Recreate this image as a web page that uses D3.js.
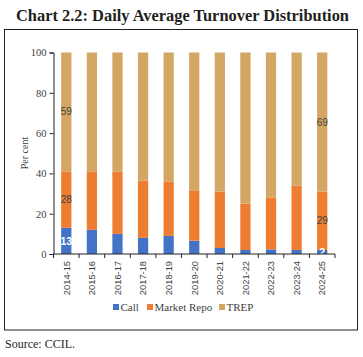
<!DOCTYPE html>
<html><head><meta charset="utf-8">
<script src="https://cdn.jsdelivr.net/npm/d3@7"></script>
<style>body{margin:0;background:#fff}</style></head>
<body><svg id="c" width="363" height="357"></svg>
<script>
const years = ["2014-15","2015-16","2016-17","2017-18","2018-19","2019-20","2020-21","2021-22","2022-23","2023-24","2024-25"];
const call = [13, 12, 10, 8, 9, 6.6, 3, 2, 2.3, 2, 2];
const marketRepo = [28, 29, 31, 28.5, 27, 25, 28, 23, 25.8, 32, 29];
const trep = [59, 59, 59, 63.5, 64, 68.4, 69, 75, 71.9, 66, 69];
const seriesNames = ["Call","Market Repo","TREP"];
const colors = ["#4472C4","#ED7D31","#D3A763"];
const yTicks = [0,20,40,60,80,100];
// which segments carry data labels: [yearIndex, seriesIndex, text, white]
const dataLabels = [[0,0,"13",true],[0,1,"28",false],[0,2,"59",false],[10,0,"2",true],[10,1,"29",false],[10,2,"69",false]];

const svg = d3.select("#c");
svg.append("rect").attr("width",363).attr("height",357).attr("fill","#fff");
svg.append("text").attr("x",16).attr("y",21).attr("font-family","Liberation Serif, serif")
  .attr("font-weight","bold").attr("font-size",17).attr("fill","#231f20")
  .attr("textLength",333).attr("lengthAdjust","spacingAndGlyphs")
  .text("Chart 2.2: Daily Average Turnover Distribution");
svg.append("rect").attr("x",4.5).attr("y",29.5).attr("width",353).attr("height",300.5)
  .attr("fill","none").attr("stroke","#231f20").attr("stroke-width",1);
svg.append("text").attr("x",5).attr("y",348).attr("font-family","Liberation Serif, serif")
  .attr("font-size",12).attr("fill","#231f20").text("Source: CCIL.");

const x = d3.scaleBand().domain(years).range([53.5,335]).paddingInner(0.6).paddingOuter(0.3);
const y = d3.scaleLinear().domain([0,100]).range([254,52.5]);

const rows = years.map((yr,i)=>({year:yr, Call:call[i], "Market Repo":marketRepo[i], TREP:trep[i]}));
const stack = d3.stack().keys(seriesNames)(rows);

const g = svg.append("g");
stack.forEach((s,si)=>{
  g.selectAll(null).data(s).join("rect")
    .attr("x",d=>x(d.data.year)).attr("width",x.bandwidth())
    .attr("y",d=>y(d[1])).attr("height",d=>y(d[0])-y(d[1]))
    .attr("fill",colors[si]);
});

dataLabels.forEach(([yi,si,t,white])=>{
  const d = stack[si][yi];
  svg.append("text").attr("x",x(years[yi])+x.bandwidth()/2).attr("y",y((d[0]+d[1])/2))
    .attr("dy","0.35em").attr("text-anchor","middle")
    .attr("font-family","Liberation Sans, sans-serif").attr("font-size",white?10.5:10)
    .attr("font-weight",white?"bold":"normal")
    .attr("fill",white?"#fff":"#404040").text(t);
});

// y axis
const yAxis = svg.append("g").attr("transform","translate(53.5,0)")
  .call(d3.axisLeft(y).tickValues(yTicks).tickSize(4).tickPadding(3));
yAxis.select(".domain").attr("stroke","#222");
yAxis.selectAll(".tick line").attr("stroke","#222");
yAxis.selectAll("text").attr("font-family","Liberation Serif, serif").attr("font-size",10.5).attr("fill","#404040");

// x axis: domain line + ticks at band boundaries
const xa = svg.append("g").attr("transform","translate(0,254)");
xa.append("line").attr("x1",53.5).attr("x2",335).attr("stroke","#222");
const bounds = years.map((v,i)=> x.range()[0] + i*x.step());
bounds.push(335);
xa.selectAll(null).data(bounds).join("line").attr("x1",d=>d).attr("x2",d=>d).attr("y1",0).attr("y2",4).attr("stroke","#222");
xa.selectAll(null).data(years).join("text")
  .attr("transform",d=>`translate(${x(d)+x.bandwidth()/2},7) rotate(-90)`)
  .attr("text-anchor","end").attr("dy","0.35em")
  .attr("font-family","Liberation Sans, sans-serif").attr("font-size",9.3).attr("fill","#404040").text(d=>d);

// y title
svg.append("text").attr("transform","translate(24,153) rotate(-90)").attr("text-anchor","middle")
  .attr("dy","0.35em").attr("font-family","Liberation Serif, serif").attr("font-size",10).attr("fill","#404040").text("Per cent");

// legend
const legX = [113,147,219];
seriesNames.forEach((n,i)=>{
  svg.append("rect").attr("x",legX[i]).attr("y",304).attr("width",6).attr("height",6).attr("fill",colors[i]);
  svg.append("text").attr("x",legX[i]+7.5).attr("y",307).attr("dy","0.35em")
    .attr("font-family","Liberation Serif, serif").attr("font-size",11).attr("fill","#404040").text(n);
});
</script></body></html>
